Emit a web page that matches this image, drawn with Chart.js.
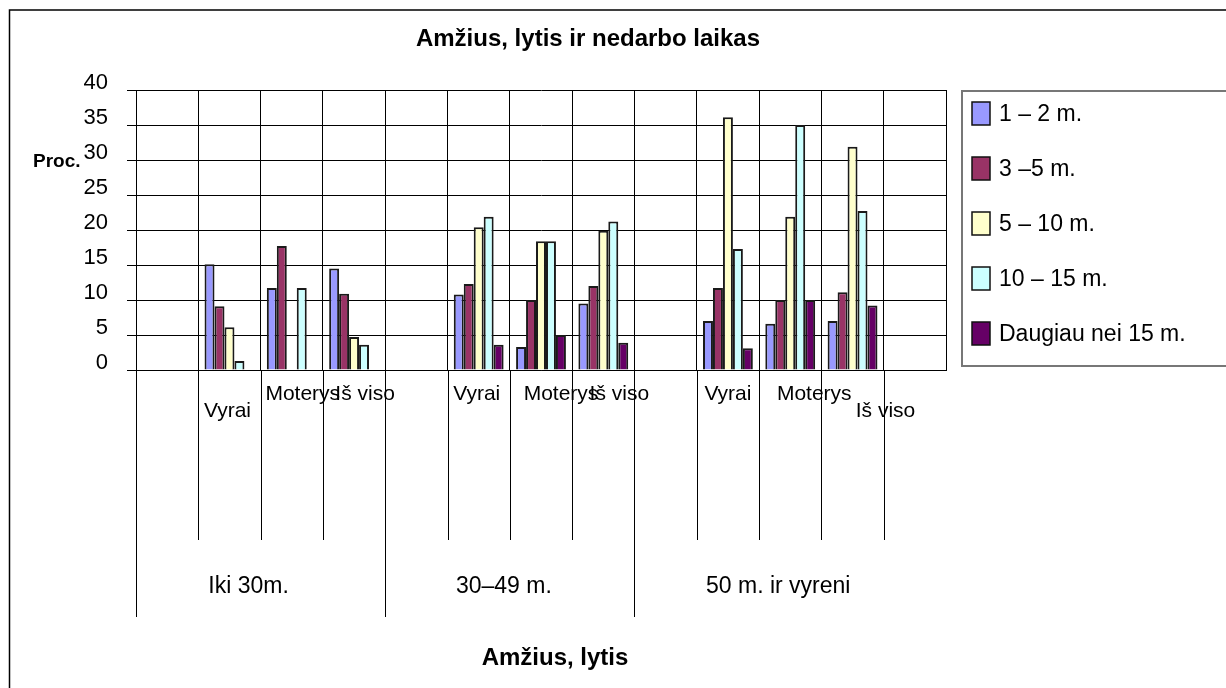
<!DOCTYPE html>
<html>
<head>
<meta charset="utf-8">
<script src="https://cdn.jsdelivr.net/npm/chart.js@4.4.1/dist/chart.umd.min.js"></script>
<style>
    html, body { margin: 0; padding: 0; background: #fff; }
    #wrap { width: 1226px; height: 688px; position: relative; }
</style>
</head>
<body>
<div id="wrap"><canvas id="myChart"></canvas></div>
<script>
// Duomenys (procentai), tušti stulpeliai = null
var kategorijos = ['', 'Vyrai', 'Moterys', 'Iš viso', '', 'Vyrai', 'Moterys', 'Iš viso', '', 'Vyrai', 'Moterys', 'Iš viso', ''];
var grupes = ['Iki 30m.', '30–49 m.', '50 m. ir vyreni'];
var grupiuDydziai = [4, 4, 5];
var serijos = ['1 – 2 m.', '3 –5 m.', '5 – 10 m.', '10 – 15 m.', 'Daugiau nei 15 m.'];

var m1_2   = [null, 15.1, 11.7, 14.5, null, 10.8, 3.3, 9.5, null, 7.0, 6.6, 7.0, null];
var m3_5   = [null, 9.1, 17.7, 10.9, null, 12.3, 10.0, 12.0, null, 11.7, 10.0, 11.1, null];
var m5_10  = [null, 6.1, null, 4.7, null, 20.4, 18.4, 19.9, null, 36.1, 21.9, 31.9, null];
var m10_15 = [null, 1.3, 11.7, 3.6, null, 21.9, 18.4, 21.2, null, 17.3, 35.0, 22.7, null];
var m15    = [null, null, null, null, null, 3.6, 5.0, 3.9, null, 3.1, 10.0, 9.2, null];

var spalvos = ['#9999FF', '#993366', '#FFFFCC', '#CCFFFF', '#660066'];

// etikečių išdėstymas (poslinkis nuo kategorijos centro, eilutė)
var etikPoslinkis = [0, -2, 11, 11, 0, -2, 20, 16, 0, 0, 24, 33, 0];
var etikEilute    = [0, 1, 0, 0, 0, 0, 0, 0, 0, 0, 0, 1, 0];
var grupPoslinkis = [-12, -6, -12];

var FONT = '"Liberation Sans", Arial, sans-serif';

var piesimas = {
    id: 'piesimas',
    afterDraw: function (chart) {
        var ctx = chart.ctx;
        var xs = chart.scales.x;
        var ca = chart.chartArea;
        var zingsnis = (ca.right - ca.left) / kategorijos.length;
        ctx.save();

        // rėmelis
        ctx.strokeStyle = '#000';
        ctx.lineWidth = 1.5;
        ctx.beginPath();
        ctx.moveTo(9.5, 688);
        ctx.lineTo(9.5, 10);
        ctx.lineTo(1226, 10);
        ctx.stroke();

        // linijos po ašimi
        var ribos = [0];
        var s = 0;
        grupiuDydziai.forEach(function (d) { s += d; ribos.push(s); });
        ctx.lineWidth = 1;
        for (var i = 0; i < kategorijos.length; i++) {
            var x = Math.round(ca.left + i * zingsnis) + 0.5;
            var ilga = ribos.indexOf(i) >= 0;
            ctx.beginPath();
            ctx.moveTo(x, ca.bottom);
            ctx.lineTo(x, ilga ? 617 : 540);
            ctx.stroke();
        }

        // kategorijų etiketės
        ctx.fillStyle = '#000';
        ctx.font = '21px ' + FONT;
        ctx.textAlign = 'center';
        ctx.textBaseline = 'alphabetic';
        kategorijos.forEach(function (k, i) {
            if (!k) return;
            var x = xs.getPixelForValue(i) + etikPoslinkis[i];
            ctx.fillText(k, x, etikEilute[i] ? 417 : 400);
        });

        // grupių etiketės
        ctx.font = '23px ' + FONT;
        var pr = 0;
        grupes.forEach(function (g, j) {
            var x0 = ca.left + pr * zingsnis;
            pr += grupiuDydziai[j];
            var x1 = ca.left + pr * zingsnis;
            ctx.fillText(g, (x0 + x1) / 2 + grupPoslinkis[j], 593);
        });

        // antraštės
        ctx.font = 'bold 24px ' + FONT;
        ctx.fillText('Amžius, lytis ir nedarbo laikas', 588, 46);
        ctx.fillText('Amžius, lytis', 555, 665);
        ctx.textAlign = 'left';
        ctx.font = 'bold 19px ' + FONT;
        ctx.fillText('Proc.', 33, 167);

        // legenda
        ctx.strokeStyle = '#777';
        ctx.lineWidth = 2;
        ctx.beginPath();
        ctx.moveTo(1230, 91);
        ctx.lineTo(962, 91);
        ctx.lineTo(962, 366);
        ctx.lineTo(1230, 366);
        ctx.stroke();

        ctx.font = '23px ' + FONT;
        ctx.textBaseline = 'middle';
        chart.data.datasets.forEach(function (ds, i) {
            var cy = 113.5 + i * 55;
            ctx.fillStyle = ds.backgroundColor;
            ctx.fillRect(972, cy - 11.5, 18, 23);
            ctx.strokeStyle = '#111';
            ctx.lineWidth = 1.5;
            ctx.strokeRect(972, cy - 11.5, 18, 23);
            ctx.fillStyle = '#000';
            ctx.fillText(ds.label, 999, cy + 1);
        });

        ctx.restore();
    }
};

var duomenys = [m1_2, m3_5, m5_10, m10_15, m15];

var ctx = document.getElementById('myChart').getContext('2d');
var myChart = new Chart(ctx, {
    type: 'bar',
    data: {
        labels: kategorijos,
        datasets: serijos.map(function (pav, i) {
            return {
                label: pav,
                data: duomenys[i],
                backgroundColor: spalvos[i],
                borderColor: '#1a1a1a',
                borderWidth: 2,
                categoryPercentage: 0.8,
                barPercentage: 1
            };
        })
    },
    options: {
        responsive: true,
        maintainAspectRatio: false,
        animation: false,
        layout: { padding: { top: 90, right: 280, bottom: 0, left: 0 } },
        plugins: {
            legend: { display: false },
            tooltip: { enabled: false },
            title: { display: false }
        },
        scales: {
            x: {
                grid: { color: '#000', lineWidth: 1, offset: true, drawTicks: false },
                border: { color: '#000' },
                ticks: { display: false },
                afterFit: function (s) { s.height = 318; }
            },
            y: {
                min: 0,
                max: 40,
                ticks: {
                    stepSize: 5,
                    color: '#000',
                    font: { family: FONT, size: 22 },
                    padding: 19,
                    labelOffset: -7
                },
                grid: { color: '#000', tickLength: 9, tickColor: '#000' },
                border: { color: '#000' },
                afterFit: function (s) { s.width = 136; }
            }
        }
    },
    plugins: [piesimas]
});
</script>
</body>
</html>
